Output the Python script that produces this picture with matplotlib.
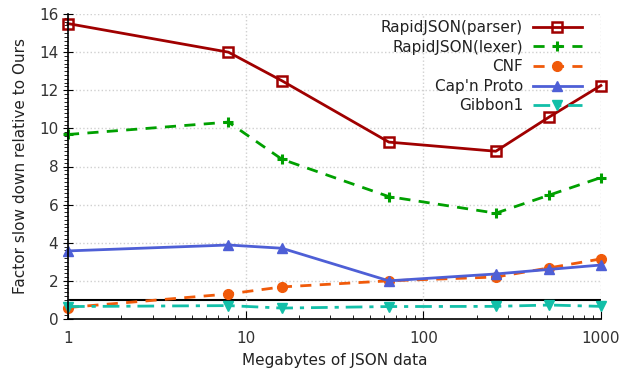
import matplotlib
matplotlib.use("Agg")
import matplotlib.pyplot as plt
from matplotlib.ticker import MultipleLocator, LogLocator, NullFormatter, FixedLocator

# data
sizes_mb = [1, 8, 16, 64, 256, 512, 1000]
rapid_parser = [15.5, 14.0, 12.5, 9.28, 8.8, 10.6, 12.25]
rapid_lexer = [9.68, 10.33, 8.38, 6.42, 5.55, 6.5, 7.42]
cnf = [0.6, 1.31, 1.68, 2.0, 2.2, 2.68, 3.15]
capnproto = [3.57, 3.88, 3.71, 2.0, 2.36, 2.6, 2.83]
gibbon1 = [0.65, 0.7, 0.57, 0.65, 0.66, 0.73, 0.66]
baseline = 1.0

fig = plt.figure(figsize=(6.24, 3.70), dpi=100)
ax = fig.add_axes([0.109, 0.138, 0.854, 0.824])

ax.plot(sizes_mb, rapid_parser, color="#a00000", lw=2, marker="s", ms=6.5,
        mfc="none", mew=1.8, label="RapidJSON(parser)", clip_on=False)
ax.plot(sizes_mb, rapid_lexer, color="#00a000", lw=2, ls=(0, (4, 3)), marker="+",
        ms=7.5, mew=2.2, label="RapidJSON(lexer)", clip_on=False)
ax.plot(sizes_mb, cnf, color="#f05a0a", lw=2, ls=(0, (4, 3)), marker="o", ms=7,
        label="CNF", clip_on=False)
ax.plot(sizes_mb, capnproto, color="#4e5fd6", lw=2, marker="^", ms=7.5,
        label="Cap'n Proto", clip_on=False)
ax.plot(sizes_mb, gibbon1, color="#12bfa8", lw=2, ls=(0, (6, 2.5, 1.5, 2.5)),
        marker="v", ms=7.5, label="Gibbon1", clip_on=False)
ax.axhline(baseline, color="black", lw=1.5, zorder=1)

ax.set_xscale("log")
ax.set_xlim(1, 1000)
ax.set_ylim(0, 16)
ax.xaxis.set_major_locator(FixedLocator([1, 10, 100, 1000]))
ax.set_xticklabels(["1", "10", "100", "1000"])
ax.xaxis.set_minor_locator(LogLocator(base=10, subs=range(2, 10)))
ax.xaxis.set_minor_formatter(NullFormatter())
ax.yaxis.set_major_locator(MultipleLocator(2))
ax.yaxis.set_minor_locator(MultipleLocator(0.2))

for s in ["top", "right"]:
    ax.spines[s].set_visible(False)
ax.spines["left"].set_linewidth(1.2)
ax.spines["bottom"].set_linewidth(1.2)

ax.tick_params(axis="x", which="major", direction="in", length=6, labelsize=11,
               labelcolor="#333333", pad=9)
ax.tick_params(axis="x", which="minor", direction="in", length=3)
ax.tick_params(axis="y", which="major", direction="inout", length=7, labelsize=11,
               labelcolor="#333333")
ax.tick_params(axis="y", which="minor", direction="out", length=3)

ax.grid(True, which="major", color="#d0d0d0", ls=":", lw=1)

ax.set_xlabel("Megabytes of JSON data", fontsize=11, color="#222222", labelpad=5)
ax.set_ylabel("Factor slow down relative to Ours", fontsize=11, color="#222222",
              labelpad=8)

leg = ax.legend(loc="upper right", frameon=False, markerfirst=False, fontsize=11,
                handlelength=3.2, handletextpad=0.65, borderaxespad=0.0,
                labelspacing=0.3, borderpad=0.0, bbox_to_anchor=(0.964, 0.98))
for t in leg.get_texts():
    t.set_color("#222222")

fig.savefig("out.png", dpi=100)
